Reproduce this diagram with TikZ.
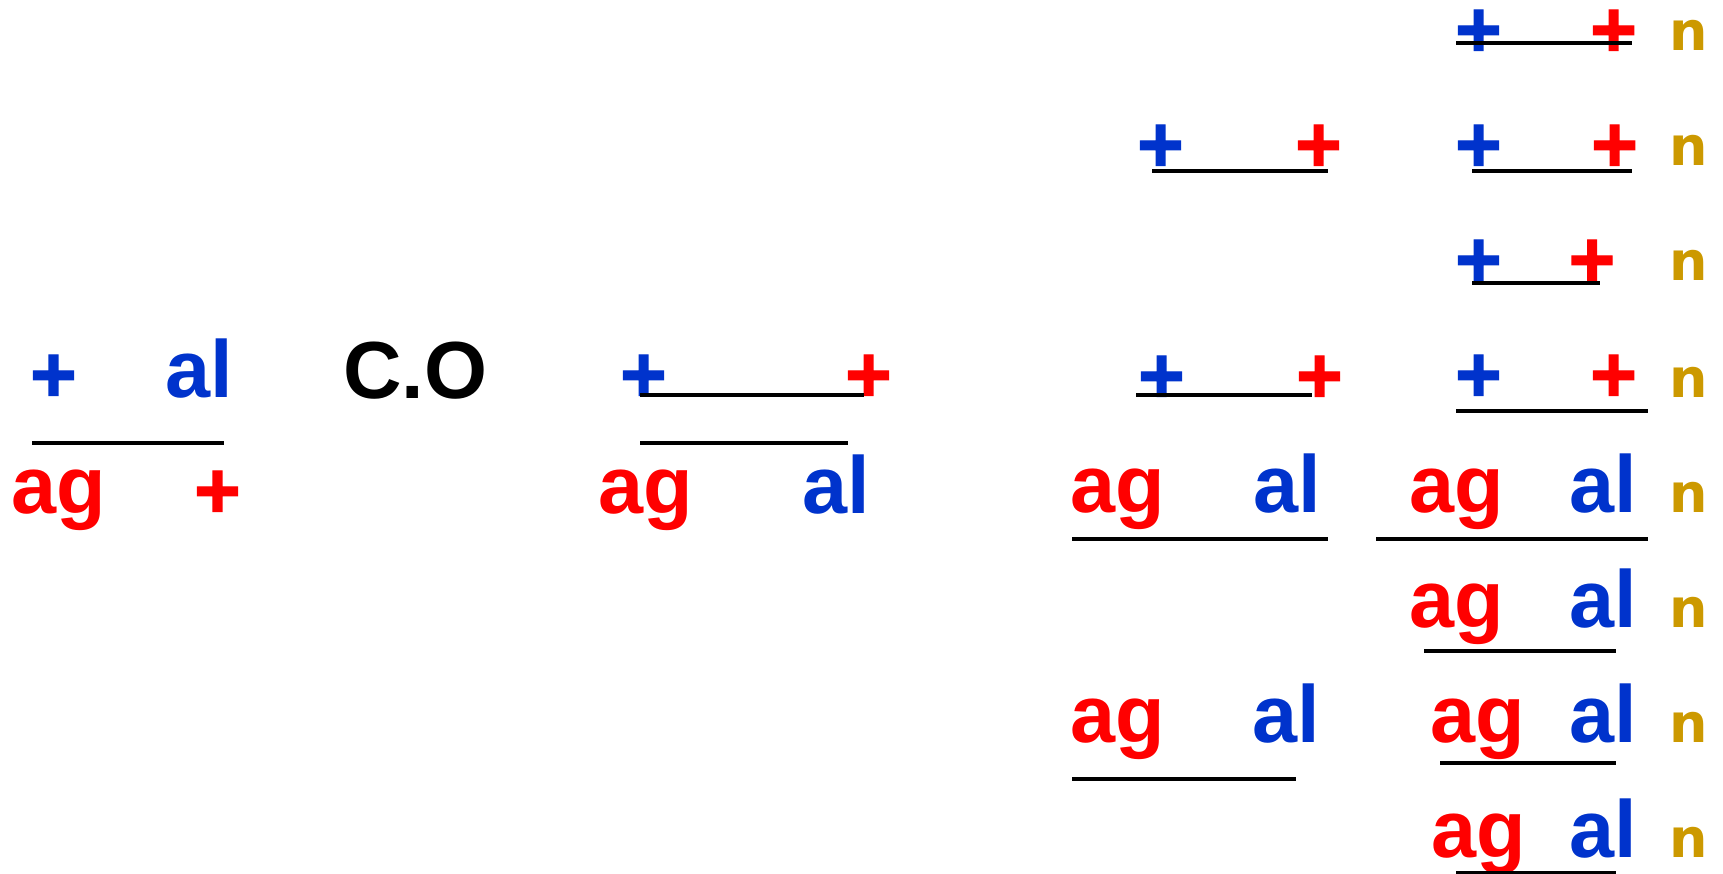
\documentclass[tikz,border=0pt]{standalone}
\usepackage{fontspec}
\setmainfont{Liberation Sans}
\newfontfamily\nfont{DejaVu Sans}
\newfontfamily\plusfont{Liberation Sans Bold}[FakeBold=1.5]
\definecolor{cblue}{RGB}{0,51,204}
\definecolor{cred}{RGB}{255,0,0}
\definecolor{cgold}{RGB}{204,153,0}
\begin{document}
\begin{tikzpicture}[x=1pt,y=-1pt,
  txt/.style={inner sep=0pt,outer sep=0pt,font=\fontsize{81pt}{90pt}\selectfont\bfseries},
  plus/.style={inner sep=0pt,outer sep=0pt,anchor=north,font=\fontsize{80pt}{90pt}\selectfont\plusfont},
  pb/.style={plus,text=cblue},
  pr/.style={plus,text=cred},
  wag/.style={txt,text=cred,anchor=base west},
  wal/.style={txt,text=cblue,anchor=base west},
  wco/.style={txt,text=black,anchor=base west},
  nn/.style={inner sep=0pt,outer sep=0pt,anchor=base west,text=cgold,font=\fontsize{54pt}{60pt}\selectfont\nfont\bfseries},
  bar/.style={line width=4pt}]
\useasboundingbox (0,0) rectangle (1723,874);
% left group
\node[pb] (l1) at (53.5,355) {+};
\node[wal] (l2) at (165,397) {al};
\draw[bar] (32,443) -- (224,443);
\node[wag] (l3) at (11,513) {ag};
\node[pr] (l4) at (217.5,471) {+};
\node[wco] (co) at (343,398) {C.O};
% middle group
\node[pb] (m1) at (643.5,355) {+};
\node[pr] (m2) at (868.5,355) {+};
\draw[bar] (640,394.5) -- (864,394.5);
\draw[bar] (640,443) -- (848,443);
\node[wag] (m3) at (598,513) {ag};
\node[wal] (m4) at (802,513) {al};
% right column 1
\node[pb] (a1) at (1160.5,125) {+};
\node[pr] (a2) at (1318.5,125) {+};
\draw[bar] (1152,171) -- (1328,171);
\node[pb] (a3) at (1161.5,356) {+};
\node[pr] (a4) at (1319.5,356) {+};
\draw[bar] (1136,395) -- (1312,395);
\node[wag] (a5) at (1070,512) {ag};
\node[wal] (a6) at (1253,512) {al};
\draw[bar] (1072,539) -- (1328,539);
\node[wag] (a7) at (1070,742) {ag};
\node[wal] (a8) at (1252,742) {al};
\draw[bar] (1072,779) -- (1296,779);
% right column 2
\node[pb] (b1) at (1478.5,10) {+};
\node[pr] (b2) at (1613.5,10) {+};
\draw[bar] (1456,43) -- (1632,43);
\node[nn] (n1) at (1669,51) {n};
\node[pb] (b3) at (1478.5,125) {+};
\node[pr] (b4) at (1614.5,125) {+};
\draw[bar] (1472,171) -- (1632,171);
\node[nn] (n2) at (1669,166) {n};
\node[pb] (b5) at (1478.5,240) {+};
\node[pr] (b6) at (1592,240) {+};
\draw[bar] (1472,283) -- (1600,283);
\node[nn] (n3) at (1669,281) {n};
\node[pb] (b7) at (1478.5,355) {+};
\node[pr] (b8) at (1613.5,355) {+};
\draw[bar] (1456,411) -- (1648,411);
\node[nn] (n4) at (1669,397) {n};
\node[wag] (c1) at (1409,512) {ag};
\node[wal] (c2) at (1569,512) {al};
\node[nn] (n5) at (1669,512) {n};
\draw[bar] (1376,539) -- (1648,539);
\node[wag] (c3) at (1409,627) {ag};
\node[wal] (c4) at (1569,627) {al};
\node[nn] (n6) at (1669,627) {n};
\draw[bar] (1424,651) -- (1616,651);
\node[wag] (c5) at (1430,742) {ag};
\node[wal] (c6) at (1569,742) {al};
\node[nn] (n7) at (1669,742) {n};
\draw[bar] (1440,763) -- (1616,763);
\node[wag] (c7) at (1431,857) {ag};
\node[wal] (c8) at (1569,857) {al};
\node[nn] (n8) at (1669,857) {n};
\draw[bar] (1456,873) -- (1616,873);
\end{tikzpicture}
\end{document}
